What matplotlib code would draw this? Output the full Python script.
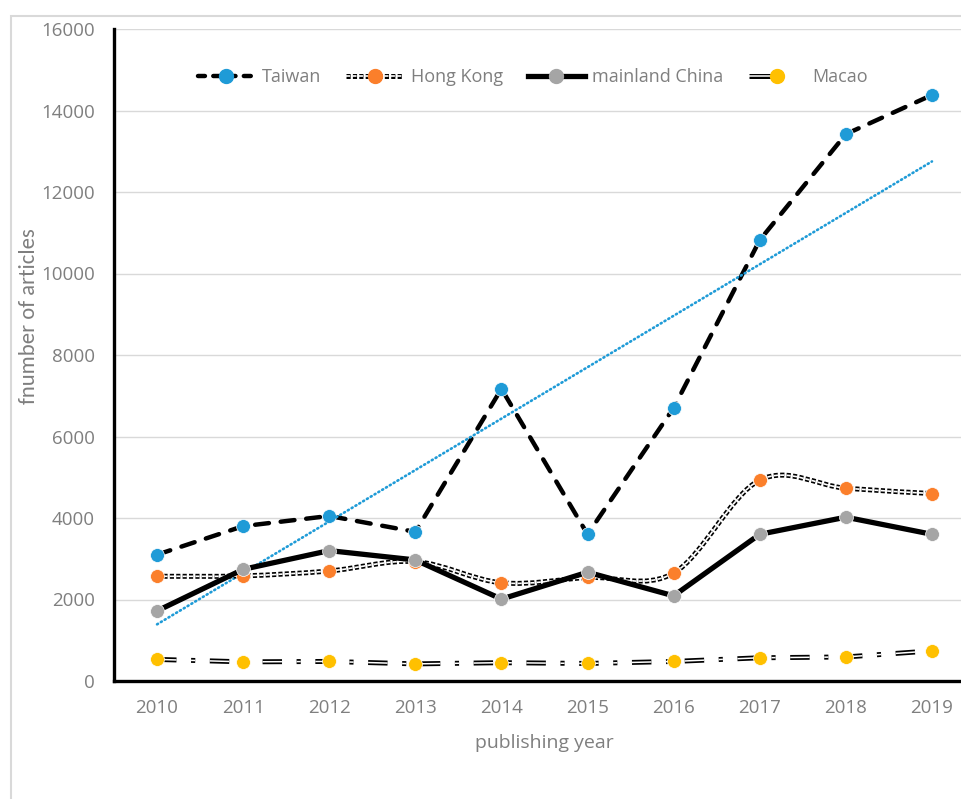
import numpy as np
import matplotlib
matplotlib.use("Agg")
import matplotlib.pyplot as plt
from matplotlib.lines import Line2D
from matplotlib.path import Path
from matplotlib.patches import PathPatch, Rectangle
from matplotlib.legend_handler import HandlerTuple

plt.rcParams['lines.scale_dashes'] = False
plt.rcParams['font.family'] = ['Open Sans', 'DejaVu Sans']

years = ['2010', '2011', '2012', '2013', '2014', '2015', '2016', '2017', '2018', '2019']
taiwan = [3100, 3800, 4050, 3660, 7170, 3600, 6700, 10820, 13420, 14380]
hong_kong = [2570, 2580, 2700, 2930, 2410, 2540, 2650, 4930, 4730, 4600]
mainland = [1720, 2740, 3200, 2970, 2010, 2670, 2090, 3600, 4020, 3600]
macao = [530, 470, 480, 420, 450, 430, 480, 570, 590, 740]
yticks = [0, 2000, 4000, 6000, 8000, 10000, 12000, 14000, 16000]

c_tw = '#1f9bd7'
c_hk = '#fb7f2b'
c_mc = '#a5a5a5'
c_mo = '#ffc000'
grey_txt = '#7f7f7f'

W, H = 961, 799
fig = plt.figure(figsize=(W / 100, H / 100), dpi=100)
fig.patches.append(Rectangle((11 / W, -0.1), 1.2, 1 - 16 / H + 0.1, transform=fig.transFigure,
                             fill=False, edgecolor='#d9d9d9', lw=1.5))
ax = fig.add_axes([114 / W, (H - 681) / H, (975 - 114) / W, (681 - 29) / H])
x = np.arange(len(years))

ms = 10
# Taiwan
ax.plot(x, taiwan, color='black', lw=3.2, linestyle=(0, (10, 8.5)), dash_capstyle='round', zorder=3)
ax.plot(x, taiwan, linestyle='none', marker='o', ms=ms, color=c_tw, mec='white', mew=0.5, zorder=4)

# Trendline (linear fit of Taiwan)
coef = np.polyfit(x, taiwan, 1)
ax.plot(x, np.polyval(coef, x), color=c_tw, lw=1.9, linestyle=(0, (0.8, 2.4)),
        dash_capstyle='round', zorder=4.5)

# Hong Kong - smoothed double dashed line
pts = np.column_stack([x, hong_kong]).astype(float)
verts = [pts[0]]
codes = [Path.MOVETO]
n = len(pts)
for i in range(n - 1):
    p0 = pts[i - 1] if i > 0 else pts[i]
    p1 = pts[i]
    p2 = pts[i + 1]
    p3 = pts[i + 2] if i + 2 < n else pts[i + 1]
    c1 = p1 + (p2 - p0) / 6
    c2 = p2 - (p3 - p1) / 6
    verts += [c1, c2, p2]
    codes += [Path.CURVE4] * 3
hk_path = Path(verts, codes)
hk_dash = (0, (3, 1.6))
ax.add_patch(PathPatch(hk_path, fill=False, edgecolor='black', lw=3.6, linestyle=hk_dash, zorder=5))
ax.add_patch(PathPatch(hk_path, fill=False, edgecolor='white', lw=1.2, linestyle=hk_dash, zorder=5.1))
ax.plot(x, hong_kong, linestyle='none', marker='o', ms=ms, color=c_hk, mec='white', mew=0.5, zorder=5.2)

# Mainland China
ax.plot(x, mainland, color='black', lw=3.8, solid_capstyle='butt', zorder=6)
ax.plot(x, mainland, linestyle='none', marker='o', ms=ms, color=c_mc, mec='white', mew=0.5, zorder=6.1)

# Macao - double dash-dot
mo_dash = (0, (14, 10.5, 3, 10.5))
ax.plot(x, macao, color='black', lw=3.6, linestyle=mo_dash, dash_capstyle='butt', zorder=7)
ax.plot(x, macao, color='white', lw=1.1, linestyle=mo_dash, dash_capstyle='butt', zorder=7.1)
ax.plot(x, macao, linestyle='none', marker='o', ms=ms, color=c_mo, mec='white', mew=0.5, zorder=7.2)

ax.set_xlim(-0.5, 9.5)
ax.set_ylim(0, 16000)
ax.set_xticks(x)
ax.set_xticklabels(years)
ax.set_yticks(yticks)
ax.set_yticklabels([str(v) for v in yticks])
ax.tick_params(axis='both', length=0, labelsize=13.5, labelcolor=grey_txt)
ax.tick_params(axis='y', pad=14)
ax.tick_params(axis='x', pad=13)
ax.grid(axis='y', color='#d9d9d9', lw=1.0)
ax.set_axisbelow(True)
for s in ['top', 'right']:
    ax.spines[s].set_visible(False)
for s in ['left', 'bottom']:
    ax.spines[s].set_linewidth(2.4)
    ax.spines[s].set_color('black')

ax.set_xlabel('publishing year', fontsize=14, color=grey_txt, labelpad=12)
fig.text(29 / W, 1 - 316 / H, 'fnumber of articles', rotation=90, ha='center', va='center',
         fontsize=16.3, color=grey_txt, family=['Carlito', 'DejaVu Sans'])

# Legend handles
h_tw = (Line2D([], [], color='black', lw=3.2, linestyle=(0, (5, 6)), dash_capstyle='round'),
        Line2D([], [], linestyle='none', marker='o', ms=ms, color=c_tw))
h_hk = (Line2D([], [], color='black', lw=3.6, linestyle=hk_dash),
        Line2D([], [], color='white', lw=1.2, linestyle=hk_dash),
        Line2D([], [], linestyle='none', marker='o', ms=ms, color=c_hk))
h_mc = (Line2D([], [], color='black', lw=3.8),
        Line2D([], [], linestyle='none', marker='o', ms=ms, color=c_mc))
h_mo = (Line2D([], [], color='black', lw=3.6, linestyle=(0, (17, 3, 3, 100))),
        Line2D([], [], color='white', lw=1.1, linestyle=(0, (17, 3, 3, 100))),
        Line2D([], [], linestyle='none', marker='o', ms=ms, color=c_mo))
leg = ax.legend([h_tw, h_hk, h_mc, h_mo], ['Taiwan', 'Hong Kong', 'mainland China', 'Macao'],
                handler_map={tuple: HandlerTuple(ndivide=1)},
                loc='center', bbox_to_anchor=((533 - 114) / (975 - 114), 1 - (77 - 29) / (681 - 29)),
                ncol=4, frameon=False, fontsize=13, handlelength=3.15, handletextpad=0.4,
                columnspacing=1.4, labelcolor=grey_txt)

fig.savefig('out.png', dpi=100, facecolor='white')
